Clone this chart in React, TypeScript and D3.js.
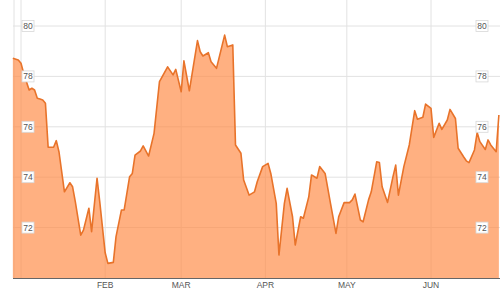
import React from "react";
import * as d3 from "d3";

const dates: string[] = [
  "2012-12-29","2012-12-31","2013-01-01","2013-01-02","2013-01-03","2013-01-04","2013-01-05","2013-01-06","2013-01-07","2013-01-08",
  "2013-01-09","2013-01-10","2013-01-11","2013-01-13","2013-01-14","2013-01-15","2013-01-17","2013-01-19","2013-01-20","2013-01-21",
  "2013-01-23","2013-01-24","2013-01-26","2013-01-27","2013-01-29","2013-01-30","2013-02-01","2013-02-02","2013-02-04","2013-02-05",
  "2013-02-07","2013-02-08","2013-02-10","2013-02-11","2013-02-12","2013-02-14","2013-02-15","2013-02-17","2013-02-19","2013-02-21",
  "2013-02-24","2013-02-26","2013-02-27","2013-03-01","2013-03-02","2013-03-04","2013-03-07","2013-03-08","2013-03-09","2013-03-11",
  "2013-03-12","2013-03-14","2013-03-17","2013-03-18","2013-03-20","2013-03-21","2013-03-23","2013-03-24","2013-03-26","2013-03-28",
  "2013-03-29","2013-03-31","2013-04-02","2013-04-03","2013-04-05","2013-04-06","2013-04-08","2013-04-09","2013-04-11","2013-04-12",
  "2013-04-14","2013-04-15","2013-04-17","2013-04-18","2013-04-20","2013-04-21","2013-04-23","2013-04-25","2013-04-27","2013-04-28",
  "2013-04-30","2013-05-02","2013-05-03","2013-05-04","2013-05-06","2013-05-07","2013-05-09","2013-05-10","2013-05-12","2013-05-13",
  "2013-05-14","2013-05-16","2013-05-18","2013-05-19","2013-05-20","2013-05-22","2013-05-24","2013-05-26","2013-05-27","2013-05-29",
  "2013-05-30","2013-06-01","2013-06-02","2013-06-04","2013-06-05","2013-06-07","2013-06-08","2013-06-10","2013-06-11","2013-06-13",
  "2013-06-14","2013-06-15","2013-06-17","2013-06-18","2013-06-19","2013-06-21","2013-06-22","2013-06-23","2013-06-25","2013-06-26",
];

const values: number[] = [
  78.72,78.65,78.52,78.12,77.79,77.46,77.53,77.46,77.13,77.1,
  77.06,76.93,75.19,75.19,75.45,75.0,73.42,73.78,73.62,73.03,
  71.7,71.9,72.77,71.84,73.96,73.03,71.0,70.58,70.62,71.64,
  72.7,72.7,74.02,74.15,74.88,75.04,75.24,74.84,75.74,77.79,
  78.38,78.06,78.28,77.39,78.62,77.43,79.42,78.98,78.81,78.94,
  78.58,78.32,79.64,79.18,79.25,75.28,74.95,73.89,73.29,73.42,
  73.82,74.42,74.55,74.15,72.96,70.91,72.96,73.56,72.43,71.31,
  72.43,72.37,73.23,74.09,73.96,74.42,74.15,72.95,71.77,72.43,
  72.99,72.99,73.1,73.33,72.3,72.23,73.1,73.42,74.61,74.58,
  73.62,73.0,74.02,74.48,73.29,74.42,75.28,76.64,76.3,76.38,
  76.9,76.73,75.58,76.14,75.9,76.27,76.69,76.33,75.15,74.81,
  74.65,74.58,75.08,75.77,75.41,75.1,75.48,75.28,75.01,76.47,
];

const yTicks: number[] = [72, 74, 76, 78, 80];
const monthTicks: string[] = ["2013-01-01","2013-02-01","2013-03-01","2013-04-01","2013-05-01","2013-06-01"];
const monthLabels: string[] = ["", "FEB", "MAR", "APR", "MAY", "JUN"];

const W = 500;
const H = 292;

export default function App() {
  const parse = d3.utcParse("%Y-%m-%d");
  const data = dates.map((d, i) => ({ date: parse(d) as Date, value: values[i] }));
  const x = d3.scaleUtc()
    .domain([parse("2013-01-01") as Date, parse("2013-06-01") as Date])
    .range([21, 431]);
  const y = d3.scaleLinear().domain([70, 80]).range([278, 26]);
  const left = 13;
  const right = 499;

  const area = d3.area<{ date: Date; value: number }>()
    .x((d) => x(d.date))
    .y0(y(70))
    .y1((d) => y(d.value));
  const line = d3.line<{ date: Date; value: number }>()
    .x((d) => x(d.date))
    .y((d) => y(d.value));

  const font = "'Liberation Sans', Arial, sans-serif";

  return (
    <svg width={W} height={H} style={{ position: "absolute", left: 0, top: 0, background: "#fff" }}>
      <g>
        {yTicks.map((t) => (
          <line key={"h" + t} x1={left} x2={W} y1={y(t)} y2={y(t)} stroke="#e2e2e2" strokeWidth={1} />
        ))}
        <line x1={14} x2={14} y1={0} y2={y(70)} stroke="#e2e2e2" strokeWidth={1} />
        {monthTicks.map((m) => {
          const xx = x(parse(m) as Date);
          return <line key={"v" + m} x1={xx} x2={xx} y1={0} y2={y(70)} stroke="#e2e2e2" strokeWidth={1} />;
        })}
      </g>
      <path d={area(data) || ""} fill="#ff8b45" fillOpacity={0.68} />
      <path d={line(data) || ""} fill="none" stroke="#e8732a" strokeWidth={1.6} strokeLinejoin="round" />
      <line x1={left} x2={W} y1={y(70) + 0.5} y2={y(70) + 0.5} stroke="#666" strokeWidth={1} />
      {monthTicks.map((m, i) =>
        monthLabels[i] ? (
          <text key={"m" + m} x={x(parse(m) as Date)} y={288} textAnchor="middle" fontFamily={font} fontSize={8.5} fill="#555">
            {monthLabels[i]}
          </text>
        ) : null
      )}
      {yTicks.map((t) => (
        <g key={"l" + t}>
          {[28, 482].map((cx) => (
            <g key={cx}>
              <rect x={cx - 6} y={y(t) - 5.5} width={12} height={11} fill="#fff" stroke="#d8d8d8" strokeWidth={0.8} />
              <text x={cx} y={y(t) + 3} textAnchor="middle" fontFamily={font} fontSize={8.5} fill="#555">
                {t}
              </text>
            </g>
          ))}
        </g>
      ))}
    </svg>
  );
}
